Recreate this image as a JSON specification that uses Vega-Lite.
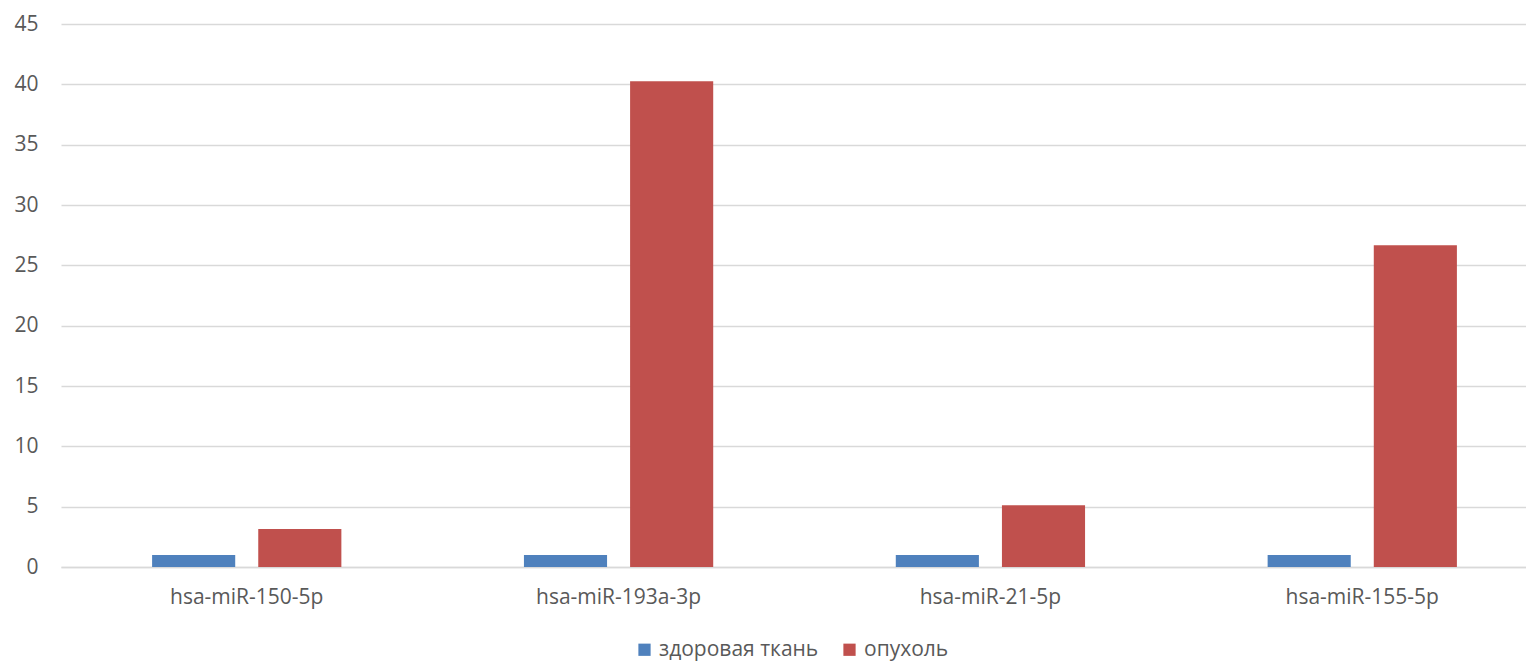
{
  "$schema": "https://vega.github.io/schema/vega-lite/v6.json",
  "autosize": "none",
  "width": 1465,
  "height": 543,
  "padding": {"left": 61, "top": 24, "right": 0, "bottom": 95},
  "background": "white",
  "config": {
    "font": "Open Sans",
    "view": {"stroke": null},
    "axis": {"labelFont": "Open Sans", "labelFontSize": 21, "labelColor": "#595959", "ticks": false, "title": null}
  },
  "data": {
    "values": [
      {"gene": "hsa-miR-150-5p", "group": "здоровая ткань", "value": 1.0},
      {"gene": "hsa-miR-150-5p", "group": "опухоль", "value": 3.15},
      {"gene": "hsa-miR-193a-3p", "group": "здоровая ткань", "value": 1.0},
      {"gene": "hsa-miR-193a-3p", "group": "опухоль", "value": 40.25},
      {"gene": "hsa-miR-21-5p", "group": "здоровая ткань", "value": 1.0},
      {"gene": "hsa-miR-21-5p", "group": "опухоль", "value": 5.12},
      {"gene": "hsa-miR-155-5p", "group": "здоровая ткань", "value": 1.0},
      {"gene": "hsa-miR-155-5p", "group": "опухоль", "value": 26.66}
    ]
  },
  "mark": {"type": "bar"},
  "encoding": {
    "x": {
      "field": "gene", "type": "nominal", "sort": null,
      "scale": {"range": [0, 1487], "paddingInner": 0.491, "paddingOuter": 0.245},
      "axis": {"labelAngle": 0, "labelPadding": 19, "domainColor": "#d9d9d9", "domainWidth": 1.5, "grid": false}
    },
    "xOffset": {"field": "group", "type": "nominal", "sort": ["здоровая ткань", "опухоль"], "scale": {"paddingInner": 0.217, "paddingOuter": 0}},
    "y": {
      "field": "value", "type": "quantitative",
      "scale": {"domain": [0, 45], "nice": false},
      "axis": {"values": [0, 5, 10, 15, 20, 25, 30, 35, 40, 45], "domain": false, "gridColor": "#d9d9d9", "gridWidth": 1.5, "labelPadding": 23}
    },
    "color": {
      "field": "group", "type": "nominal",
      "scale": {"domain": ["здоровая ткань", "опухоль"], "range": ["#4f81bd", "#c0504d"]},
      "legend": {
        "title": null, "orient": "none", "direction": "horizontal",
        "legendX": 573, "legendY": 615, "padding": 0,
        "symbolType": "square", "symbolSize": 150, "symbolStrokeWidth": 0, "symbolOpacity": 1,
        "labelFont": "Open Sans", "labelFontSize": 21, "labelColor": "#595959", "labelOffset": 4,
        "columnPadding": 20
      }
    }
  }
}
